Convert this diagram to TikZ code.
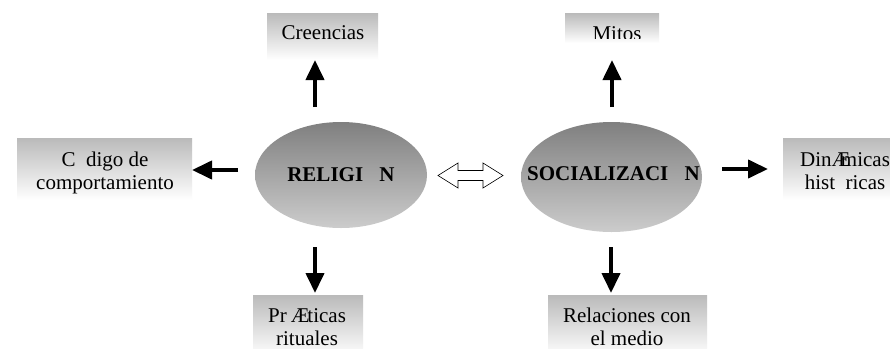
\documentclass[tikz,border=0pt]{standalone}
\usepackage{fontspec}
\setmainfont{Liberation Serif}
\usetikzlibrary{arrows.meta,shapes.geometric}
\newcommand\abrk{\rlap{Æ}\hphantom{a}}
\begin{document}
\begin{tikzpicture}[x=1pt,y=-1pt,
  box/.style={rectangle, inner sep=0pt, top color=black!27, bottom color=white, draw=none},
  lbl/.style={inner sep=0pt, font=\fontsize{21}{23}\selectfont, align=center},
  oval/.style={ellipse, inner sep=0pt, top color=black!50, bottom color=black!20, draw=none},
  ovaltxt/.style={inner sep=0pt, font=\fontsize{21}{23}\selectfont\bfseries},
  blk/.style={line width=4pt, -{Triangle[length=20pt,width=18pt]}},
  dbl/.style={line width=0.6pt, fill=white, line join=miter}
  ]
\useasboundingbox[fill=white] (0,0) rectangle (890,348);
\clip (0,0) rectangle (890,348);
% boxes
\node[box, minimum width=111pt, minimum height=47pt] (creB) at (322.5,36.5) {};
\node[box, minimum width=94pt, minimum height=30pt] (mitB) at (612,28) {};
\node[box, minimum width=175pt, minimum height=62pt] (codB) at (104.5,169) {};
\node[box, minimum width=107pt, minimum height=62pt] (dinB) at (836.5,169) {};
\node[box, minimum width=110pt, minimum height=62pt] (praB) at (308,326) {};
\node[box, minimum width=159pt, minimum height=62pt] (relB) at (627.5,326) {};
% texts
\node[lbl, anchor=base] (creT) at (323,39) {Creencias};
\begin{scope}
\clip (560,0) rectangle (665,38.5);
\node[lbl, anchor=base] (mitT) at (617,40) {Mitos};
\end{scope}
\node[lbl, anchor=north] (codT) at (105,149.9) {\strut C\hphantom{o}digo de\\\strut comportamiento};
\node[lbl, anchor=north] (dinT) at (845,149.9) {\strut Din\abrk micas\\\strut hist\hphantom{o}ricas};
\node[lbl, anchor=north] (praT) at (307,305.9) {\strut Pr\kern4pt Æ\kern-2pt ticas\\\strut rituales};
\node[lbl, anchor=north] (relT) at (627,305.9) {\strut Relaciones con\\\strut el medio};
% ellipses
\node[oval, minimum width=172pt, minimum height=106pt] (rel) at (341,175) {};
\node[ovaltxt] (relTx) at (rel.center) {RELIGI\hphantom{O}N};
\node[oval, minimum width=181pt, minimum height=110pt] (soc) at (611.5,177) {};
\node[ovaltxt] (socTx) at ([xshift=2pt,yshift=3pt]soc.center) {SOCIALIZACI\hphantom{O}N};
% arrow ends
\coordinate (a1s) at (315,107); \coordinate (a1e) at (315,60);
\coordinate (a2s) at (612,107); \coordinate (a2e) at (612,60);
\coordinate (a3s) at (238,170); \coordinate (a3e) at (192,170);
\coordinate (a4s) at (722,169); \coordinate (a4e) at (768,169);
\coordinate (a5s) at (315,247); \coordinate (a5e) at (315,293);
\coordinate (a6s) at (611,247); \coordinate (a6e) at (611,293);
\draw[blk] (a1s) -- (a1e);
\draw[blk] (a2s) -- (a2e);
\draw[blk] (a3s) -- (a3e);
\draw[blk] (a4s) -- (a4e);
\draw[blk] (a5s) -- (a5e);
\draw[blk] (a6s) -- (a6e);
% double arrow
\coordinate (dl) at (438,175.5);
\coordinate (dr) at (503,175.5);
\draw[dbl] (dl) -- ++(20,-12.5) -- ++(0,7.5) -- ++(25,0) -- ++(0,-7.5) -- (dr)
  -- ++(-20,12.5) -- ++(0,-7.5) -- ++(-25,0) -- ++(0,7.5) -- cycle;
\end{tikzpicture}
\end{document}
